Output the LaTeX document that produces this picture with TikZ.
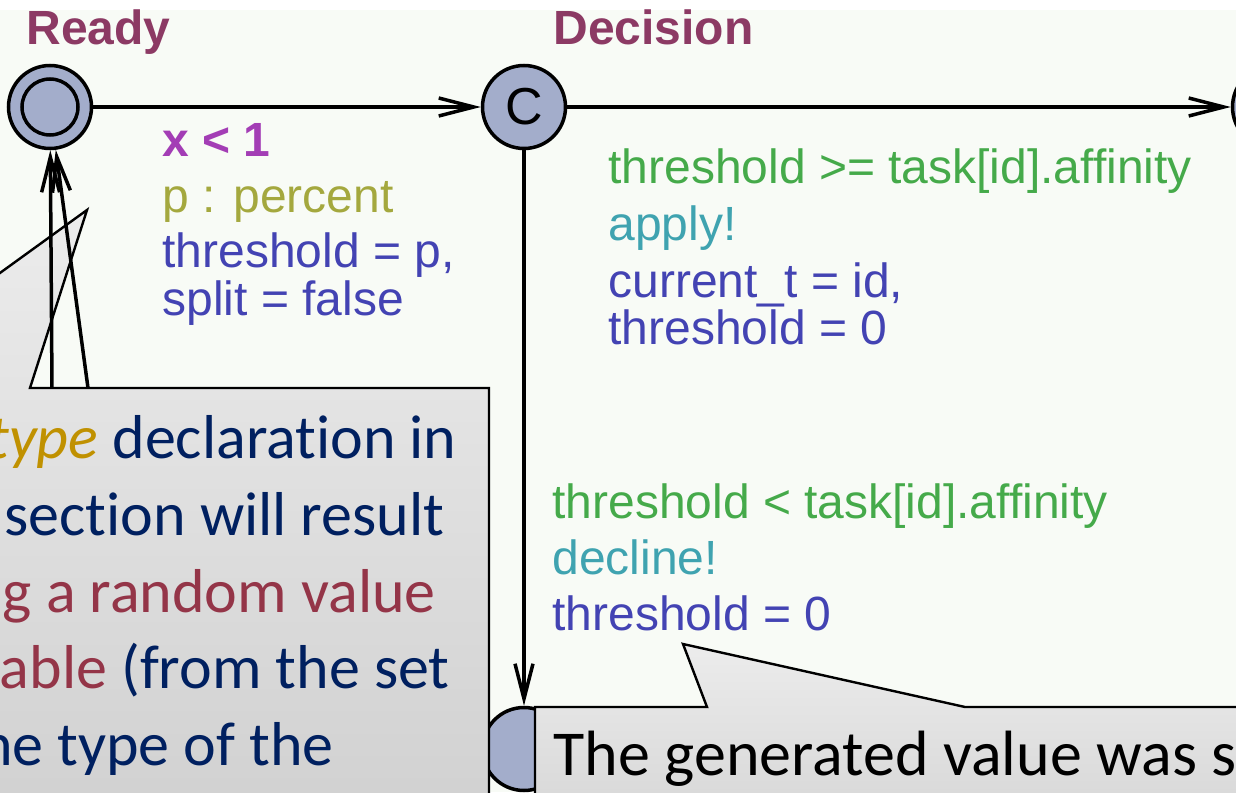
\documentclass[tikz,border=0pt]{standalone}
\usepackage{fontspec}
\setmainfont{Liberation Sans}
\newfontfamily\slidefont[Ligatures=NoCommon]{Carlito}
\usetikzlibrary{arrows.meta}

\definecolor{locfill}{HTML}{A3ADCB}
\definecolor{namecol}{HTML}{8C3A64}
\definecolor{invcol}{HTML}{A33DB5}
\definecolor{selcol}{HTML}{A4A83E}
\definecolor{guardcol}{HTML}{45AA4A}
\definecolor{synccol}{HTML}{3FA3B0}
\definecolor{updcol}{HTML}{4343B3}
\definecolor{canvas}{HTML}{F8FBF6}
\definecolor{navy}{HTML}{002060}
\definecolor{wine}{HTML}{943548}
\definecolor{gold}{HTML}{C09100}
\definecolor{notetop}{HTML}{ECECEC}
\definecolor{notebot}{HTML}{CDCDCD}

\tikzset{
  loc/.style={circle, draw, line width=1.75pt, fill=locfill, minimum size=41.5pt, inner sep=0pt},
  trans/.style={line width=1.75pt, -{Straight Barb[length=17.5pt, width=9pt]}},
  lbl/.style={anchor=base west, inner sep=0pt, font=\fontsize{24}{24}\selectfont},
  locname/.style={anchor=base west, inner sep=0pt, text=namecol, font=\bfseries\fontsize{24}{24}\selectfont},
  note/.style={draw, line width=1.2pt, top color=notetop, bottom color=notebot},
  notetext/.style={inner sep=0pt, font=\slidefont\fontsize{31}{31}\selectfont}
}

\begin{document}
\begin{tikzpicture}[x=0.5pt, y=-0.5pt]
\useasboundingbox (0,0) rectangle (1236,792);
\clip (0,0) rectangle (1236,792);
\fill[canvas] (0,10) rectangle (1236,792);

% locations
\node[loc] (Ready) at (50,107) {};
\draw[line width=1.75pt] (Ready.center) circle[radius=14pt];
\node[loc, font=\fontsize{26}{26}\selectfont] (Decision) at (524,107) {C};
\node[loc] (Next) at (1274,107) {};
\node[loc] (Low) at (524,749) {};
\node[locname] (readyname) at (26,45) {Ready};
\node[locname] (decisionname) at (553,45) {Decision};

% callout on the select
\draw[note] (-300,388) -- (-159,388) -- (87,210) -- (30,388) -- (489,388) -- (489,900) -- (-300,900) -- cycle;

% edges
\draw[trans] (Ready) -- (Decision);
\draw[trans] (Decision) -- (Next);
\draw[trans] (Decision) -- (Low);
\coordinate (backA) at (52,388);
\coordinate (backB) at (88,388);
\draw[trans] (backA) -- (Ready);
\draw[trans] (backB) -- (Ready);

% edge labels
\node[lbl, text=invcol, font=\bfseries\fontsize{24}{24}\selectfont] (inv) at (162,156) {x < 1};
\node[lbl, text=selcol] (sel) at (162,212) {p : percent};
\node[lbl, text=updcol] (upd1) at (162,267) {threshold = p,};
\node[lbl, text=updcol] (upd2) at (162,315) {split = false};
\node[lbl, text=guardcol] (grd2) at (608,183) {threshold >= task[id].affinity};
\node[lbl, text=synccol] (syn2) at (608,240) {apply!};
\node[lbl, text=updcol] (upd3) at (608,297) {current\_t = id,};
\node[lbl, text=updcol] (upd4) at (608,344) {threshold = 0};
\node[lbl, text=guardcol] (grd3) at (552,518) {threshold < task[id].affinity};
\node[lbl, text=synccol] (syn3) at (552,574) {decline!};
\node[lbl, text=updcol] (upd5) at (552,630) {threshold = 0};

% callout on the update
\draw[note] (535,900) -- (535,707) -- (707,707) -- (683,644) -- (965,707) -- (1400,707) -- (1400,900) -- cycle;

% callout texts
\node[notetext, anchor=base east, text=navy] (noteA) at (457,458) {\textcolor{gold}{\textit{type}} declaration in};
\node[notetext, anchor=base east, text=navy] (noteB) at (445,535) {section will result};
\node[notetext, anchor=base east, text=wine] (noteC) at (436,612) {g a random value};
\node[notetext, anchor=base east, text=navy] (noteD) at (450,688) {\textcolor{wine}{able} (from the set};
\node[notetext, anchor=base east, text=navy] (noteE) at (334,765) {the type of the};
\node[notetext, anchor=base west, font=\slidefont\fontsize{32}{32}\selectfont] (noteF) at (553,775) {The generated value was s};
\end{tikzpicture}
\end{document}
